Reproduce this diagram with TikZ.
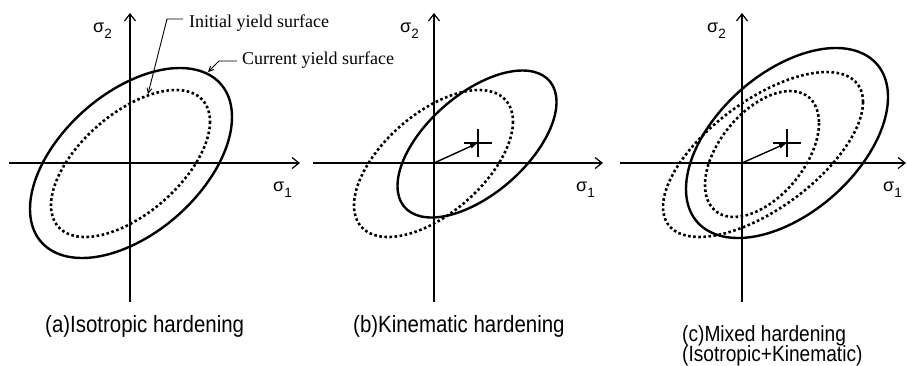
\documentclass[tikz,border=0pt]{standalone}
\usepackage{fontspec}
\setmainfont{Liberation Serif}
\newfontfamily\sansf{Liberation Sans}
\newfontfamily\narrowf[FakeStretch=0.87]{Liberation Sans}
\usetikzlibrary{arrows.meta}
\newcommand\sigl[1]{{\sansf\fontsize{18}{18}\selectfont σ\raisebox{-6pt}{\fontsize{13.5}{13.5}\selectfont #1}}}
\begin{document}
\begin{tikzpicture}[x=1pt,y=-1pt,
  axis/.style={line width=1.2pt,-{Straight Barb[length=7pt,width=11pt,line width=1.2pt]}},
  ys/.style={line width=2.4pt},
  yd/.style={line width=2.6pt,dash pattern=on 2.6pt off 2.5pt},
  lbl/.style={inner sep=0pt,anchor=base west},
  captxt/.style={inner sep=0pt,anchor=base west,font=\narrowf\fontsize{23.5}{23.5}\selectfont},
  captxtc/.style={inner sep=0pt,anchor=base west,font=\narrowf\fontsize{22}{22}\selectfont},
  notetxt/.style={inner sep=0pt,anchor=base west,font=\fontsize{18}{18}\selectfont},
  lead/.style={line width=0.9pt,-{Straight Barb[length=5pt,width=5pt,line width=0.9pt]}},
  kin/.style={line width=1.4pt,-{Latex[length=8pt,width=5pt]}},
  crossl/.style={line width=1.1pt}]
\useasboundingbox (0,0) rectangle (907,365);

% ---------- panel (a) ----------
\coordinate (ax1) at (9,163);   \coordinate (ax2) at (300,163);
\coordinate (ay1) at (130,302); \coordinate (ay2) at (130,13);
\draw[axis] (ax1) -- (ax2);
\draw[axis] (ay1) -- (ay2);
\draw[ys, cm={101,46,0,83.1,(131,163)}] (0,0) circle (1);
\draw[yd, cm={79.5,42,0,60.3,(130.5,163.5)}] (0,0) circle (1);
\node[lbl] (sa2) at (93,32) {\sigl{2}};
\node[lbl] (sa1) at (273,191) {\sigl{1}};

\node[notetxt] (initn) at (189,27) {Initial yield surface};
\node[notetxt] (curn) at (242,64) {Current yield surface};
\coordinate (li1) at (183,19); \coordinate (li2) at (167,19); \coordinate (li3) at (148,94);
\coordinate (lc1) at (237,61); \coordinate (lc2) at (219,61); \coordinate (lc3) at (208,72);
\draw[lead] (li1) -- (li2) -- (li3);
\draw[lead] (lc1) -- (lc2) -- (lc3);

\node[captxt] (capa) at (45,332) {(a)Isotropic hardening};

% ---------- panel (b) ----------
\coordinate (bx1) at (313,163); \coordinate (bx2) at (603,163);
\coordinate (by1) at (434,302); \coordinate (by2) at (434,13);
\draw[axis] (bx1) -- (bx2);
\draw[axis] (by1) -- (by2);
\draw[yd, cm={79.5,42,0,60.3,(433.5,163.5)}] (0,0) circle (1);
\draw[ys, cm={79.5,42,0,60.3,(477,144)}] (0,0) circle (1);
\coordinate (bo) at (434,163); \coordinate (bc) at (478,143);
\draw[crossl] (464,143) -- (492,143);
\draw[crossl] (478,129) -- (478,157);
\draw[kin] (bo) -- (bc);
\node[lbl] (sb2) at (400,32) {\sigl{2}};
\node[lbl] (sb1) at (576,191) {\sigl{1}};
\node[captxt] (capb) at (353,332) {(b)Kinematic hardening};

% ---------- panel (c) ----------
\coordinate (cx1) at (620,163); \coordinate (cx2) at (906,163);
\coordinate (cy1) at (742,302); \coordinate (cy2) at (742,13);
\draw[axis] (cx1) -- (cx2);
\draw[axis] (cy1) -- (cy2);
\draw[ys, cm={101,46,0,83.1,(787,143)}] (0,0) circle (1);
\draw[yd, cm={100,52.5,0,63.6,(763,154.5)}] (0,0) circle (1);
\draw[yd, cm={57,31,0,54.8,(762,154)}] (0,0) circle (1);
\coordinate (co) at (742,163); \coordinate (cc) at (787,143);
\draw[crossl] (773,143) -- (801,143);
\draw[crossl] (787,129) -- (787,157);
\draw[kin] (co) -- (cc);
\node[lbl] (sc2) at (707,32) {\sigl{2}};
\node[lbl] (sc1) at (883,191) {\sigl{1}};
\node[captxtc] (capc1) at (682,341) {(c)Mixed hardening};
\node[captxtc] (capc2) at (682,361.5) {(Isotropic+Kinematic)};
\end{tikzpicture}
\end{document}
